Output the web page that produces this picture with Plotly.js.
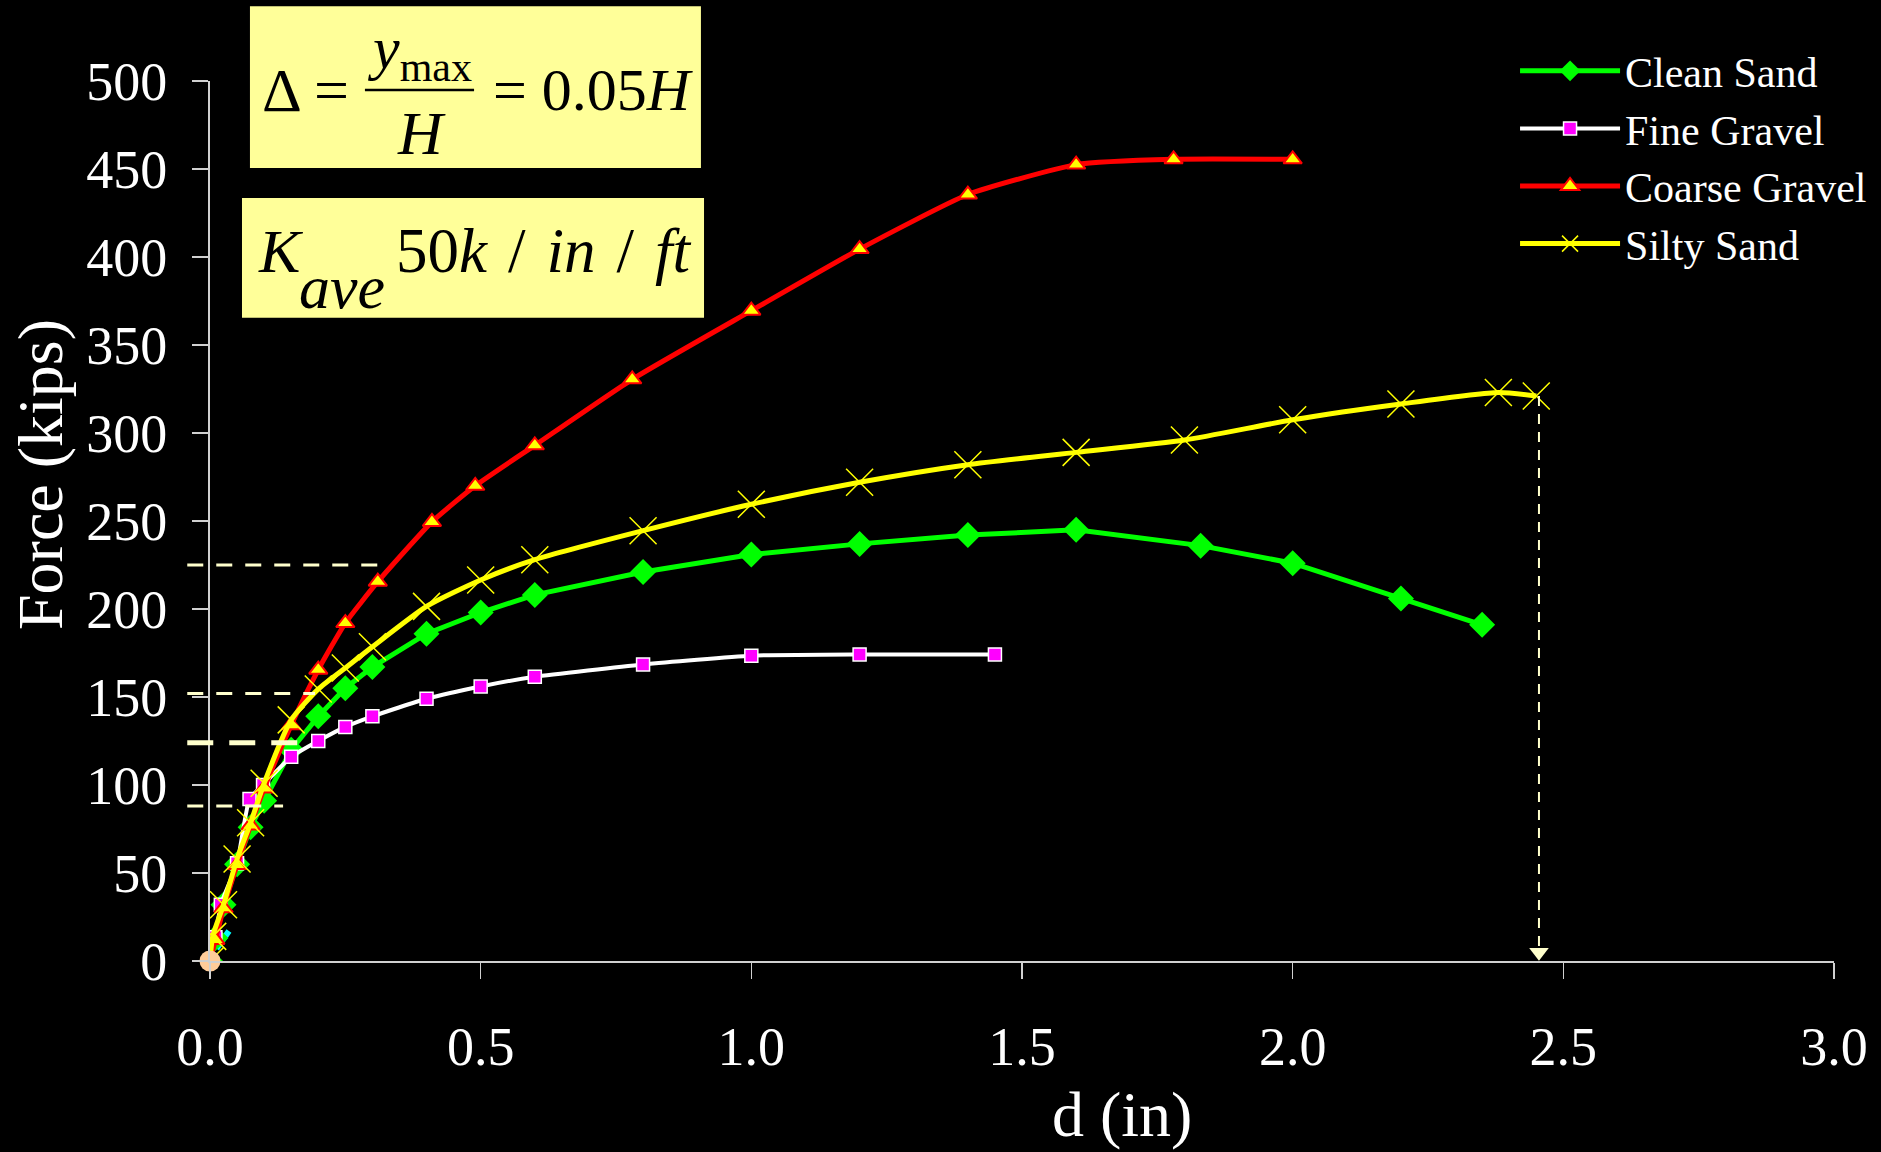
<!DOCTYPE html>
<html>
<head>
<meta charset="utf-8">
<script src="https://cdn.plot.ly/plotly-3.0.1.min.js"></script>
<style>html,body{margin:0;padding:0;background:#000;}#chart{width:1881px;height:1152px;}</style>
</head>
<body>
<div id="chart"></div>
<script>
// ---- data ----
var seriesNames = ["Clean Sand", "Fine Gravel", "Coarse Gravel", "Silty Sand"];

var cleanSandX = [0, 0.01, 0.025, 0.05, 0.075, 0.1, 0.15, 0.2, 0.25, 0.3, 0.4, 0.5, 0.6, 0.8, 1.0, 1.2, 1.4, 1.6, 1.83, 2.0, 2.2, 2.35];
var cleanSandY = [0, 13, 32, 55, 76, 91, 120, 139, 155, 167, 186, 198, 208, 221, 231, 237, 242, 245, 236, 226, 206, 191];

var fineGravelX = [0, 0.01, 0.02, 0.05, 0.073, 0.098, 0.15, 0.2, 0.25, 0.3, 0.4, 0.5, 0.6, 0.8, 1.0, 1.2, 1.45];
var fineGravelY = [0, 13.5, 32, 55.5, 92, 100, 116, 125, 133, 139, 149, 156, 161.5, 168.5, 173.5, 174.2, 174.2];

var coarseGravelX = [0, 0.01, 0.025, 0.05, 0.075, 0.1, 0.15, 0.2, 0.25, 0.31, 0.41, 0.49, 0.6, 0.78, 1.0, 1.2, 1.4, 1.6, 1.78, 2.0];
var coarseGravelY = [0, 12, 30, 54.5, 77, 98, 134, 165.5, 192, 215.5, 249.5, 270, 293, 330.5, 369.5, 404.5, 435.5, 452.5, 455.5, 455.5];

var siltySandX = [0, 0.005, 0.025, 0.05, 0.075, 0.1, 0.15, 0.2, 0.25, 0.3, 0.4, 0.5, 0.6, 0.8, 1.0, 1.2, 1.4, 1.6, 1.8, 2.0, 2.2, 2.38, 2.45];
var siltySandY = [0, 14, 32, 58, 78.5, 101, 137, 154.5, 166.5, 178.5, 201.5, 216.5, 228, 244.5, 259.5, 272, 282, 289, 296, 307.5, 316.5, 323, 321];

// small extra marks near the origin
var cyanSegX = [0.012, 0.035];
var cyanSegY = [7, 17];
var originX = [0];
var originY = [0];

// dashed reference levels on the force axis (kips) and where they stop (in)
var refLevels = [225, 152, 124, 88];
var refEnds = [0.314, 0.194, 0.19, 0.135];
var refWidths = [3, 3, 5, 3];
var refDash = ["16px,13px", "16px,13px", "26px,16px", "16px,13px"];

// vertical drop line with arrow head
var dropX = [2.455];
var dropTop = 321;
var arrowY = [5];

var xTicks = [0, 0.5, 1.0, 1.5, 2.0, 2.5, 3.0];
var yTicks = [0, 50, 100, 150, 200, 250, 300, 350, 400, 450, 500];

var serif = "Liberation Serif, Times New Roman, serif";
var pale = "#FFFFCC";

var traces = [
  {x: cyanSegX, y: cyanSegY, mode: "lines", line: {color: "#00FFFF", width: 6}, showlegend: false, hoverinfo: "skip"},
  {x: cleanSandX, y: cleanSandY, name: seriesNames[0], mode: "lines+markers",
   line: {color: "#00FF00", width: 5},
   marker: {symbol: "diamond", size: 20, color: "#00FF00"}},
  {x: fineGravelX, y: fineGravelY, name: seriesNames[1], mode: "lines+markers",
   line: {color: "#FFFFFF", width: 4, shape: "spline", smoothing: 0.5},
   marker: {symbol: "square", size: 13, color: "#FF00FF", line: {color: "#FFFFFF", width: 1.5}}},
  {x: coarseGravelX, y: coarseGravelY, name: seriesNames[2], mode: "lines+markers",
   line: {color: "#FF0000", width: 5, shape: "spline", smoothing: 0.5},
   marker: {symbol: "triangle-up", size: 16, color: "#FFFF00", line: {color: "#FF0000", width: 2}}},
  {x: siltySandX, y: siltySandY, name: seriesNames[3], mode: "lines+markers",
   line: {color: "#FFFF00", width: 5, shape: "spline", smoothing: 0.6},
   marker: {symbol: "x-thin-open", size: 27, color: "#FFFF00", line: {color: "#FFFF00", width: 1.5}}},
  {x: originX, y: originY, mode: "markers", marker: {symbol: "circle", size: 21, color: "#FFCC99"},
   showlegend: false, hoverinfo: "skip", cliponaxis: false},
  {x: dropX, y: arrowY, mode: "markers", marker: {symbol: "triangle-down", size: 17, color: pale},
   showlegend: false, hoverinfo: "skip", cliponaxis: false}
];

var shapes = [];
// formula boxes
shapes.push({type: "rect", xref: "paper", yref: "paper", x0: 0.0246, x1: 0.3023, y0: 0.901, y1: 1.085,
  fillcolor: "#FFFF99", line: {width: 0}, layer: "above"});
shapes.push({type: "rect", xref: "paper", yref: "paper", x0: 0.0197, x1: 0.3042, y0: 0.731, y1: 0.867,
  fillcolor: "#FFFF99", line: {width: 0}, layer: "above"});
// fraction bar
shapes.push({type: "line", xref: "paper", yref: "paper", x0: 0.0954, x1: 0.1626, y0: 0.9898, y1: 0.9898,
  line: {color: "#000000", width: 2.5}, layer: "above"});
// dashed reference levels
for (var i = 0; i < refLevels.length; i++) {
  shapes.push({type: "line", xref: "paper", yref: "y", x0: -0.014, x1: refEnds[i] / 3,
    y0: refLevels[i], y1: refLevels[i], line: {color: pale, width: refWidths[i], dash: refDash[i]}, layer: "above"});
}
// vertical drop line
shapes.push({type: "line", xref: "x", yref: "y", x0: dropX[0], x1: dropX[0], y0: dropTop, y1: 8,
  line: {color: pale, width: 2, dash: "10px,8px"}, layer: "above"});

var f62 = {family: serif, size: 62, color: "#000000"};
var f60 = {family: serif, size: 60, color: "#000000"};
var hs = "\u200A";
var annotations = [
  // box 1: Δ = y_max / H = 0.05H
  {xref: "paper", yref: "paper", x: 0.0308, y: 0.9898, xanchor: "left", yanchor: "middle", showarrow: false,
   text: "Δ =", font: f62},
  {xref: "paper", yref: "paper", x: 0.129, y: 1.032, xanchor: "center", yanchor: "middle", showarrow: false,
   text: "<i>y</i><sub>max</sub>", font: f60},
  {xref: "paper", yref: "paper", x: 0.1300, y: 0.941, xanchor: "center", yanchor: "middle", showarrow: false,
   text: "<i>H</i>", font: f62},
  {xref: "paper", yref: "paper", x: 0.1730, y: 0.9898, xanchor: "left", yanchor: "middle", showarrow: false,
   text: "= 0.05<i>H</i>", font: f60},
  // box 2: K_ave 50k / in / ft
  {xref: "paper", yref: "paper", x: 0.0285, y: 0.807, xanchor: "left", yanchor: "middle", showarrow: false,
   text: "<i>K</i>", font: f62},
  {xref: "paper", yref: "paper", x: 0.0535, y: 0.766, xanchor: "left", yanchor: "middle", showarrow: false,
   text: "<i>ave</i>", font: f62},
  {xref: "paper", yref: "paper", x: 0.1133, y: 0.807, xanchor: "left", yanchor: "middle", showarrow: false,
   text: "50<i>k</i> " + hs + "/" + hs + " <i>in</i> " + hs + "/" + hs + " <i>ft</i>",
   font: {family: serif, size: 63, color: "#000000"}},
  // axis titles
  {xref: "paper", yref: "paper", x: 0.5616, y: -0.1739, xanchor: "center", yanchor: "middle", showarrow: false,
   text: "d (in)", font: {family: serif, size: 64, color: "#FFFFFF"}},
  {xref: "paper", yref: "paper", x: -0.1047, y: 0.5534, xanchor: "center", yanchor: "middle", showarrow: false,
   text: "Force (kips)", textangle: -90, font: {family: serif, size: 64, color: "#FFFFFF"}}
];

var axisCommon = {
  showgrid: false, zeroline: false, showline: true, linecolor: "#d0d0d0", linewidth: 2,
  ticks: "outside", ticklen: 16, tickwidth: 1.5, tickcolor: "#d0d0d0",
  tickfont: {family: serif, size: 54, color: "#FFFFFF"}, fixedrange: true
};

var layout = {
  width: 1881, height: 1152,
  margin: {l: 210, r: 47, t: 81, b: 191, pad: 0, autoexpand: false},
  paper_bgcolor: "#000000", plot_bgcolor: "#000000",
  showlegend: true,
  legend: {x: 0.8036, y: 1.0500, xanchor: "left", yanchor: "top", bgcolor: "rgba(0,0,0,0)",
    font: {family: serif, size: 42, color: "#FFFFFF"}, itemwidth: 100, tracegroupgap: 0},
  xaxis: Object.assign({}, axisCommon, {range: [0, 3], tickvals: xTicks, tickformat: ".1f", ticklabelstandoff: 21}),
  yaxis: Object.assign({}, axisCommon, {range: [0, 500], tickvals: yTicks, ticklabelstandoff: 14}),
  shapes: shapes,
  annotations: annotations
};

Plotly.newPlot("chart", traces, layout, {displayModeBar: false, staticPlot: true});
</script>
</body>
</html>
